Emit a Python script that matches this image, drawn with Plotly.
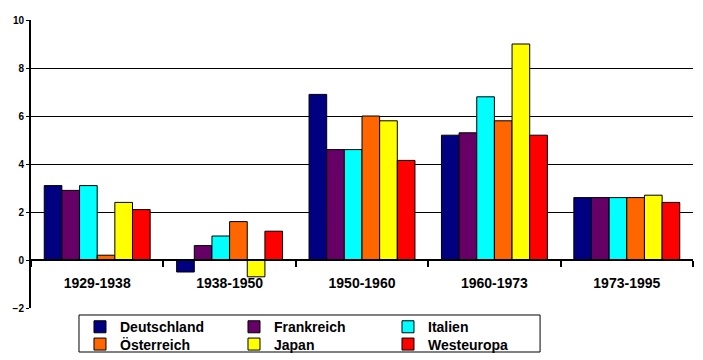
import plotly.graph_objects as go

periods = ["1929-1938", "1938-1950", "1950-1960", "1960-1973", "1973-1995"]
deutschland = [3.1, -0.5, 6.9, 5.2, 2.6]
frankreich = [2.9, 0.6, 4.6, 5.3, 2.6]
italien = [3.1, 1.0, 4.6, 6.8, 2.6]
oesterreich = [0.2, 1.6, 6.0, 5.8, 2.6]
japan = [2.4, -0.7, 5.8, 9.0, 2.7]
westeuropa = [2.1, 1.2, 4.15, 5.2, 2.4]

series = [
    ("Deutschland", deutschland, "#000080", "legend"),
    ("Frankreich", frankreich, "#660066", "legend"),
    ("Italien", italien, "#00FFFF", "legend"),
    ("Österreich", oesterreich, "#FF6600", "legend2"),
    ("Japan", japan, "#FFFF00", "legend2"),
    ("Westeuropa", westeuropa, "#FF0000", "legend2"),
]

FONT = "Liberation Sans, Arial, sans-serif"

fig = go.Figure()
for name, vals, color, lg in series:
    fig.add_trace(go.Bar(
        x=periods, y=vals, name=name, legend=lg,
        marker=dict(color=color, line=dict(color="black", width=1)),
    ))

legend_common = dict(
    orientation="h", xanchor="left", yanchor="top",
    font=dict(family=FONT, size=14, color="black", weight="bold"),
    bgcolor="rgba(0,0,0,0)", borderwidth=0,
    entrywidth=109, entrywidthmode="pixels",
    itemclick=False, itemdoubleclick=False,
)

fig.update_layout(
    width=703, height=360,
    margin=dict(l=31, r=10, t=20, b=52, autoexpand=False),
    paper_bgcolor="white", plot_bgcolor="white",
    barmode="group", bargap=0.2, bargroupgap=0,
    showlegend=True,
    legend=dict(x=0.074, y=-0.011, **legend_common),
    legend2=dict(x=0.074, y=-0.071, **legend_common),
    font=dict(family=FONT, color="black"),
    xaxis=dict(
        anchor="free", position=2 / 12,
        showline=True, linecolor="black", linewidth=2,
        ticks="outside", tickson="boundaries", ticklen=6, tickwidth=2, tickcolor="black",
        tickfont=dict(family=FONT, size=14, color="black", weight="bold"),
        ticklabelstandoff=10,
        showgrid=False, zeroline=False,
    ),
    yaxis=dict(
        range=[-2, 10], dtick=2,
        showline=True, linecolor="black", linewidth=2,
        ticks="outside", ticklen=3, tickwidth=1, tickcolor="black",
        tickfont=dict(family=FONT, size=10, color="black", weight="bold"),
        showgrid=True, gridcolor="black", gridwidth=1,
        zeroline=False,
    ),
    shapes=[dict(
        type="rect", xref="paper", yref="paper",
        x0=0.0725, x1=0.769, y0=-0.1528, y1=-0.0243,
        line=dict(color="black", width=1), fillcolor="rgba(0,0,0,0)",
    )],
)

fig.write_html(
    "out.html",
    config={"displayModeBar": False},
    post_script="document.body.style.margin='0px';",
)
